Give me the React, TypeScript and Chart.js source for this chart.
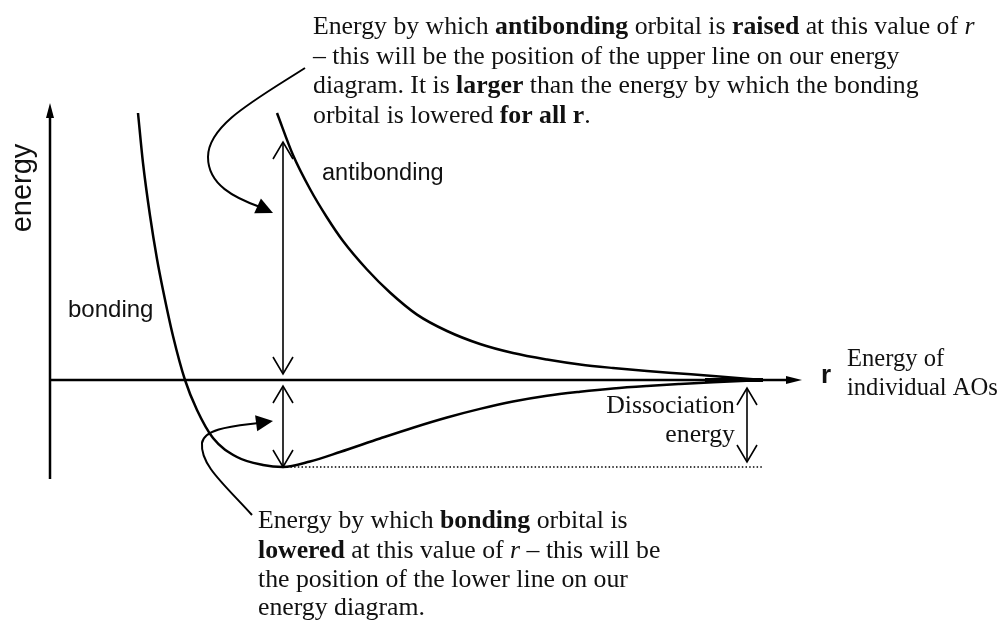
import React, { useEffect, useRef } from 'react';
import { Chart, registerables } from 'chart.js';

Chart.register(...registerables);

// ---- data (internuclear distance r, energy relative to separated AOs; arbitrary units) ----
const bondingR = [0.88, 0.93, 1.0, 1.07, 1.13, 1.23, 1.35, 1.47, 1.63, 1.87, 2.13, 2.33, 2.6, 2.9, 3.3, 3.63, 3.97, 4.3, 4.63, 4.97, 5.3, 5.63, 5.97, 6.3, 6.63, 7.13];
const bondingE = [2.67, 2.17, 1.645, 1.21, 0.9, 0.44, 0.0, -0.3, -0.58, -0.77, -0.85, -0.87, -0.815, -0.72, -0.585, -0.477, -0.375, -0.289, -0.216, -0.158, -0.118, -0.085, -0.06, -0.04, -0.022, 0.0];
const antibondingR = [2.27, 2.43, 2.6, 2.77, 2.93, 3.17, 3.4, 3.67, 3.97, 4.3, 4.63, 4.97, 5.3, 5.63, 5.97, 6.3, 6.63, 7.13];
const antibondingE = [2.67, 2.25, 1.91, 1.625, 1.39, 1.105, 0.875, 0.654, 0.49, 0.36, 0.27, 0.205, 0.155, 0.12, 0.09, 0.065, 0.04, 0.0];

// key values marked on the diagram
const rEquilibrium = 2.33;
const minEnergy = -0.87;
const antibondingAtEq = 2.38;
const rDissociation = 6.97;
const rConverge = 7.13;

// scale ranges
const X_MIN = -0.5;
const X_MAX = 9.55;
const Y_MIN = -2.43;
const Y_MAX = 3.8;

// annotation texts
type Seg = [string, string];
const topNote: Seg[][] = [
  [['Energy by which ', ''], ['antibonding', 'b'], [' orbital is ', ''], ['raised', 'b'], [' at this value of ', ''], ['r', 'i']],
  [['– this will be the position of the upper line on our energy', '']],
  [['diagram. It is ', ''], ['larger', 'b'], [' than the energy by which the bonding', '']],
  [['orbital is lowered ', ''], ['for all r', 'b'], ['.', '']],
];
const bottomNote: Seg[][] = [
  [['Energy by which ', ''], ['bonding', 'b'], [' orbital is', '']],
  [['lowered', 'b'], [' at this value of ', ''], ['r', 'i'], [' – this will be', '']],
  [['the position of the lower line on our', '']],
  [['energy diagram.', '']],
];
const aoNote: Seg[][] = [[['Energy of', '']], [['individual AOs', '']]];

const SERIF = '"Liberation Serif", "Times New Roman", serif';
const SANS = '"Liberation Sans", Arial, sans-serif';

function richWidth(ctx: CanvasRenderingContext2D, segs: Seg[], size: number) {
  let w = 0;
  for (const [t, s] of segs) {
    ctx.font = `${s === 'i' ? 'italic ' : ''}${s === 'b' ? 'bold ' : ''}${size}px ${SERIF}`;
    w += ctx.measureText(t).width;
  }
  return w;
}

function drawRich(ctx: CanvasRenderingContext2D, segs: Seg[], x: number, y: number, size: number) {
  let cx = x;
  for (const [t, s] of segs) {
    ctx.font = `${s === 'i' ? 'italic ' : ''}${s === 'b' ? 'bold ' : ''}${size}px ${SERIF}`;
    ctx.fillText(t, cx, y);
    cx += ctx.measureText(t).width;
  }
}

const annotations = {
  id: 'annotations',
  beforeDatasetsDraw(chart: any) {
    const ctx: CanvasRenderingContext2D = chart.ctx;
    const xs = chart.scales.x;
    const ys = chart.scales.y;
    const X = (v: number) => xs.getPixelForValue(v);
    const Y = (v: number) => ys.getPixelForValue(v);
    ctx.save();
    ctx.strokeStyle = '#000';
    ctx.fillStyle = '#000';
    ctx.lineWidth = 2.5;
    // y axis
    ctx.beginPath();
    ctx.moveTo(X(0), Y(-0.99));
    ctx.lineTo(X(0), Y(2.64));
    ctx.stroke();
    ctx.beginPath();
    ctx.moveTo(X(0), Y(2.77));
    ctx.lineTo(X(0) - 4, Y(2.77) + 15);
    ctx.lineTo(X(0) + 4, Y(2.77) + 15);
    ctx.closePath();
    ctx.fill();
    // x axis
    ctx.beginPath();
    ctx.moveTo(X(0), Y(0));
    ctx.lineTo(X(7.4), Y(0));
    ctx.stroke();
    ctx.beginPath();
    ctx.moveTo(X(7.52), Y(0));
    ctx.lineTo(X(7.52) - 16, Y(0) - 4);
    ctx.lineTo(X(7.52) - 16, Y(0) + 4);
    ctx.closePath();
    ctx.fill();
    ctx.restore();
  },
  afterDatasetsDraw(chart: any) {
    const ctx: CanvasRenderingContext2D = chart.ctx;
    const xs = chart.scales.x;
    const ys = chart.scales.y;
    const X = (v: number) => xs.getPixelForValue(v);
    const Y = (v: number) => ys.getPixelForValue(v);
    ctx.save();
    ctx.strokeStyle = '#000';
    ctx.fillStyle = '#000';

    // thickened convergence of the two curves onto the axis
    ctx.lineWidth = 4;
    ctx.beginPath();
    ctx.moveTo(X(6.55), Y(0));
    ctx.lineTo(X(rConverge), Y(0));
    ctx.stroke();

    // dotted line at the minimum
    ctx.lineWidth = 1.5;
    ctx.setLineDash([1.5, 2.2]);
    ctx.beginPath();
    ctx.moveTo(X(rEquilibrium), Y(minEnergy));
    ctx.lineTo(X(rConverge), Y(minEnergy));
    ctx.stroke();
    ctx.setLineDash([]);

    // open-headed double arrows
    const vArrow = (r: number, e1: number, e2: number) => {
      const x = X(r);
      const y1 = Y(e1);
      const y2 = Y(e2);
      ctx.lineWidth = 1.6;
      ctx.beginPath();
      ctx.moveTo(x, y1);
      ctx.lineTo(x, y2);
      ctx.stroke();
      const head = (yt: number, dir: number) => {
        ctx.beginPath();
        ctx.moveTo(x - 10, yt + dir * 17);
        ctx.lineTo(x, yt);
        ctx.lineTo(x + 10, yt + dir * 17);
        ctx.stroke();
      };
      head(y1, y1 < y2 ? 1 : -1);
      head(y2, y2 < y1 ? 1 : -1);
    };
    vArrow(rEquilibrium, antibondingAtEq, 0.06);
    vArrow(rEquilibrium, -0.06, minEnergy);
    vArrow(rDissociation, -0.08, -0.82);

    // curved pointer arrows
    const curved = (pts: number[][], tip: number[]) => {
      const p = pts.map(([r, e]) => [X(r), Y(e)]);
      ctx.lineWidth = 2;
      ctx.beginPath();
      ctx.moveTo(p[0][0], p[0][1]);
      for (let i = 1; i + 2 < p.length; i += 3) {
        ctx.bezierCurveTo(p[i][0], p[i][1], p[i + 1][0], p[i + 1][1], p[i + 2][0], p[i + 2][1]);
      }
      ctx.stroke();
      const last = p[p.length - 1];
      const tx = X(tip[0]);
      const ty = Y(tip[1]);
      const a = Math.atan2(ty - last[1], tx - last[0]);
      const L = 17;
      const W = 8;
      const bx = tx - L * Math.cos(a);
      const by = ty - L * Math.sin(a);
      ctx.beginPath();
      ctx.moveTo(tx, ty);
      ctx.lineTo(bx + W * Math.sin(a), by - W * Math.cos(a));
      ctx.lineTo(bx - W * Math.sin(a), by + W * Math.cos(a));
      ctx.closePath();
      ctx.fill();
    };
    curved(
      [[2.55, 3.12], [2.05, 2.8], [1.58, 2.55], [1.58, 2.23], [1.58, 1.95], [1.85, 1.82], [2.1, 1.73]],
      [2.23, 1.67]
    );
    curved(
      [[2.02, -1.35], [1.75, -1.05], [1.5, -0.85], [1.52, -0.63], [1.54, -0.48], [1.85, -0.46], [2.08, -0.43]],
      [2.23, -0.41]
    );

    // sans labels
    ctx.fillStyle = '#111';
    ctx.textBaseline = 'alphabetic';
    ctx.textAlign = 'left';
    ctx.font = `24px ${SANS}`;
    ctx.fillText('bonding', X(0.18), Y(0.63));
    ctx.font = `23.5px ${SANS}`;
    ctx.fillText('antibonding', X(2.72), Y(2.0));
    ctx.font = `bold 26px ${SANS}`;
    ctx.fillText('r', X(7.71), Y(-0.03));
    ctx.save();
    ctx.translate(X(-0.27), Y(1.92));
    ctx.rotate(-Math.PI / 2);
    ctx.textAlign = 'center';
    ctx.textBaseline = 'middle';
    ctx.font = `29px ${SANS}`;
    ctx.fillText('energy', 0, 0);
    ctx.restore();

    // serif notes
    const size = (100 * 662) / richWidth(ctx, topNote[0], 100);
    const topBase = [3.46, 3.165, 2.87, 2.575];
    topNote.forEach((line, i) => drawRich(ctx, line, X(2.63), Y(topBase[i]), size));
    const botBase = [-1.48, -1.78, -2.07, -2.35];
    bottomNote.forEach((line, i) => drawRich(ctx, line, X(2.08), Y(botBase[i]), size));
    const aoSize = Math.min(size, (100 * 151) / richWidth(ctx, aoNote[1], 100));
    const aoBase = [0.14, -0.15];
    aoNote.forEach((line, i) => drawRich(ctx, line, X(7.97), Y(aoBase[i]), aoSize));
    ctx.textAlign = 'right';
    ctx.font = `${size}px ${SERIF}`;
    ctx.fillText('Dissociation', X(6.85), Y(-0.33));
    ctx.fillText('energy', X(6.85), Y(-0.62));
    ctx.restore();
  },
};

export default function App() {
  const ref = useRef<HTMLCanvasElement | null>(null);
  useEffect(() => {
    if (!ref.current) return;
    const chart = new Chart(ref.current, {
      type: 'line',
      data: {
        datasets: [
          {
            label: 'bonding',
            data: bondingR.map((r, i) => ({ x: r, y: bondingE[i] })),
            borderColor: '#000',
            borderWidth: 2.5,
            pointRadius: 0,
            cubicInterpolationMode: 'monotone',
            fill: false,
          },
          {
            label: 'antibonding',
            data: antibondingR.map((r, i) => ({ x: r, y: antibondingE[i] })),
            borderColor: '#000',
            borderWidth: 2.5,
            pointRadius: 0,
            cubicInterpolationMode: 'monotone',
            fill: false,
          },
        ],
      },
      options: {
        responsive: false,
        animation: false,
        devicePixelRatio: 1,
        layout: { padding: 0 },
        plugins: { legend: { display: false }, tooltip: { enabled: false } },
        scales: {
          x: { type: 'linear', min: X_MIN, max: X_MAX, display: false },
          y: { type: 'linear', min: Y_MIN, max: Y_MAX, display: false },
        },
      },
      plugins: [annotations],
    } as any);
    return () => chart.destroy();
  }, []);
  return (
    <div style={{ position: 'fixed', left: 0, top: 0, width: 1005, height: 623, background: '#fff' }}>
      <canvas ref={ref} width={1005} height={623} style={{ display: 'block', width: 1005, height: 623 }} />
    </div>
  );
}
